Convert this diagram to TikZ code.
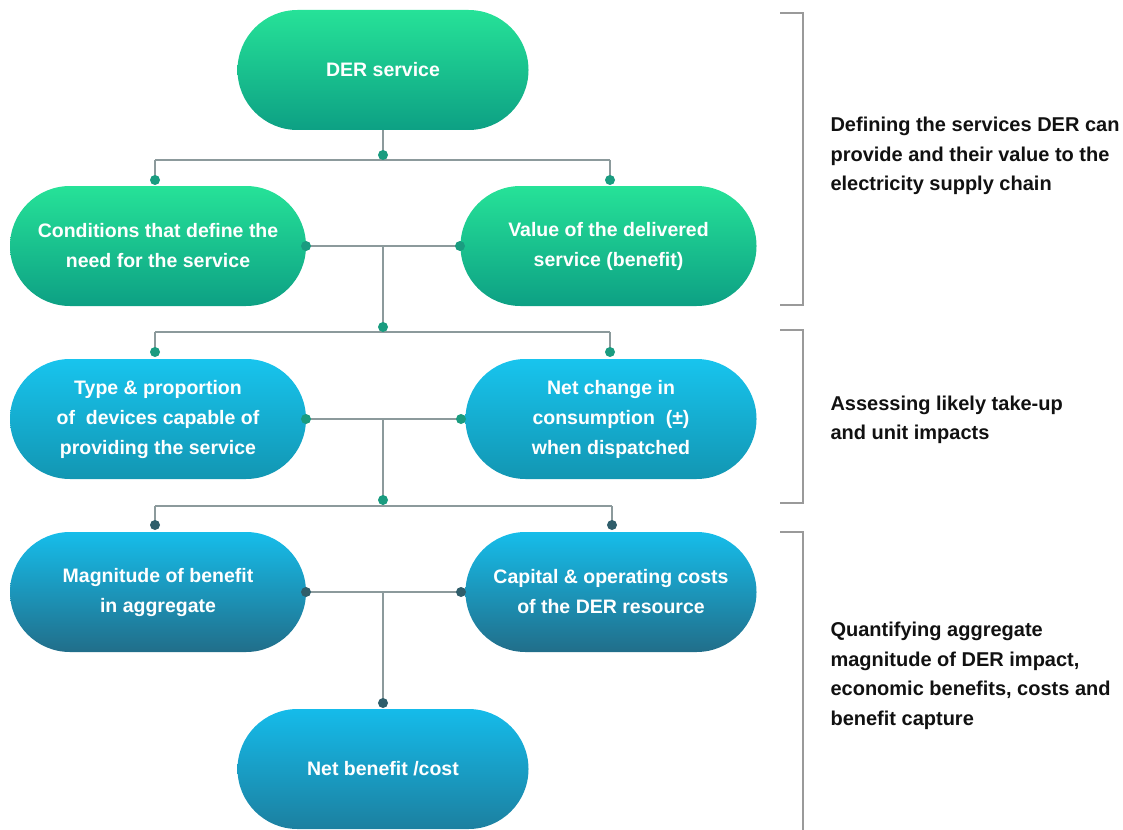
\documentclass[tikz,border=0pt]{standalone}
\usepackage{fontspec}
\setmainfont{Liberation Sans}
\usetikzlibrary{shapes.misc}

\definecolor{greenTop}{HTML}{26E298}
\definecolor{greenBot}{HTML}{0DA084}
\definecolor{blueTop}{HTML}{18C4EE}
\definecolor{blueBot}{HTML}{1296B2}
\definecolor{deepTop}{HTML}{16BDEA}
\definecolor{deepBot}{HTML}{216E8A}
\definecolor{netTop}{HTML}{15BBEA}
\definecolor{netBot}{HTML}{1C80A0}
\definecolor{linkGray}{HTML}{8C9A9C}
\definecolor{braceGray}{HTML}{9A9A9A}
\definecolor{dotTeal}{HTML}{1A9C80}
\definecolor{dotDark}{HTML}{2F5E6B}
\definecolor{labelInk}{HTML}{111111}

\begin{document}
\begin{tikzpicture}[x=1pt,y=-1pt,
  pill/.style={rounded rectangle, minimum height=120pt, inner sep=0pt,
    align=center, text=white,
    font=\fontsize{19.5}{30}\selectfont\bfseries},
  widepill/.style={pill, minimum width=296pt},
  midpill/.style={pill, minimum width=291pt},
  greenfill/.style={top color=greenTop, bottom color=greenBot},
  bluefill/.style={top color=blueTop, bottom color=blueBot},
  deepfill/.style={top color=deepTop, bottom color=deepBot},
  netfill/.style={top color=netTop, bottom color=netBot},
  link/.style={draw=linkGray, line width=1.3pt},
  bracket/.style={draw=braceGray, line width=1.1pt},
  dot/.style={circle, inner sep=0pt, minimum size=10pt, fill=dotTeal},
  darkdot/.style={dot, fill=dotDark},
  sidelabel/.style={anchor=west, align=left, text=labelInk,
    font=\fontsize{20}{29.5}\selectfont\bfseries}
]
\useasboundingbox (0,0) rectangle (1123,829);

% ---- boxes ----
\node[midpill, greenfill] (der) at (383,70) {DER service};
\node[widepill, greenfill] (cond) at (158,246) {Conditions that define the\\need for the service};
\node[widepill, greenfill] (value) at (608.5,246) {Value of the delivered\\service (benefit)};
\node[widepill, bluefill] (type) at (158,419) {Type \& proportion\\of\ \ devices capable of\\providing the service};
\node[midpill, bluefill] (change) at (611,419) {Net change in\\consumption\ \ (\textpm)\\when dispatched};
\node[widepill, deepfill] (mag) at (158,592) {Magnitude of benefit\\in aggregate};
\node[midpill, deepfill] (capex) at (611,592) {Capital \& operating costs\\of the DER resource};
\node[midpill, netfill] (net) at (383,769) {Net benefit /cost};

% ---- junction points ----
\coordinate (j1) at (383,160);
\coordinate (j1L) at (155,160);
\coordinate (j1R) at (610,160);
\coordinate (m1) at (383,246);
\coordinate (j2) at (383,332);
\coordinate (j2L) at (155,332);
\coordinate (j2R) at (610,332);
\coordinate (m2) at (383,419);
\coordinate (j3) at (383,506);
\coordinate (j3L) at (155,506);
\coordinate (j3R) at (612,506);
\coordinate (m3) at (383,592);

% ---- connector dot positions ----
\coordinate (d1) at (383,155);
\coordinate (d1L) at (155,180);
\coordinate (d1R) at (610,180);
\coordinate (s1L) at (306,246);
\coordinate (s1R) at (460,246);
\coordinate (d2) at (383,327);
\coordinate (d2L) at (155,352);
\coordinate (d2R) at (610,352);
\coordinate (s2L) at (306,419);
\coordinate (s2R) at (461,419);
\coordinate (d3) at (383,500);
\coordinate (d3L) at (155,525);
\coordinate (d3R) at (612,525);
\coordinate (s3L) at (306,592);
\coordinate (s3R) at (461,592);
\coordinate (d4) at (383,703);

% ---- connectors ----
\draw[link] (der.south) -- (j1);
\draw[link] (j1L) -- (j1R);
\draw[link] (j1L) -- (d1L);
\draw[link] (j1R) -- (d1R);
\draw[link] (s1L) -- (s1R);
\draw[link] (m1) -- (j2);
\draw[link] (j2L) -- (j2R);
\draw[link] (j2L) -- (d2L);
\draw[link] (j2R) -- (d2R);
\draw[link] (s2L) -- (s2R);
\draw[link] (m2) -- (j3);
\draw[link] (j3L) -- (j3R);
\draw[link] (j3L) -- (d3L);
\draw[link] (j3R) -- (d3R);
\draw[link] (s3L) -- (s3R);
\draw[link] (m3) -- (d4);

% dots sit on top of the lines
\foreach \n/\s in {d1/dot,d1L/dot,d1R/dot,s1L/dot,s1R/dot,d2/dot,d2L/dot,d2R/dot,
  s2L/dot,s2R/dot,d3/dot,d3L/darkdot,d3R/darkdot,s3L/darkdot,s3R/darkdot,d4/darkdot}
  \node[\s] (\n-dot) at (\n) {};

% ---- stage brackets ----
\coordinate (b1t) at (780,13);
\coordinate (b1b) at (780,305);
\coordinate (b2t) at (780,330);
\coordinate (b2b) at (780,503);
\coordinate (b3t) at (780,532);
\coordinate (b3b) at (803,840);
\draw[bracket] (b1t) -- ++(23,0) |- (b1b);
\draw[bracket] (b2t) -- ++(23,0) |- (b2b);
\draw[bracket] (b3t) -- ++(23,0) -- (b3b);

% ---- stage labels ----
\node[sidelabel] (lab1) at (827,156) {Defining the services DER can\\provide and their value to the\\electricity supply chain};
\node[sidelabel] (lab2) at (827,420) {Assessing likely take-up\\and unit impacts};
\node[sidelabel] (lab3) at (827,676) {Quantifying aggregate\\magnitude of DER impact,\\economic benefits, costs and\\benefit capture};
\end{tikzpicture}
\end{document}
